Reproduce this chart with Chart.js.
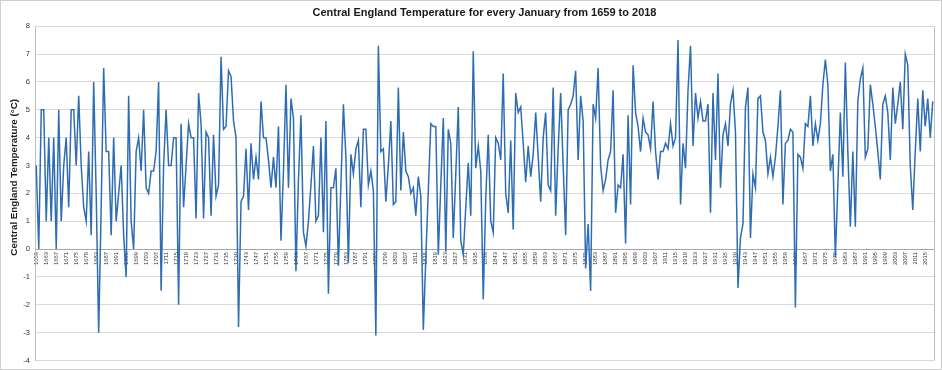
<!DOCTYPE html>
<html><head><meta charset="utf-8">
<script src="https://cdn.jsdelivr.net/npm/chart.js@4.4.0/dist/chart.umd.min.js"></script>
<style>html,body{margin:0;padding:0;background:#fff}canvas{display:block}</style>
</head><body>
<canvas id="c" width="942" height="370"></canvas>
<script>
const chartTitle = 'Central England Temperature for every January from 1659 to 2018';
const yAxisTitle = 'Central England Temperature (°C)';
const firstYear = 1659, lastYear = 2018;
const years = [];
for (let y = firstYear; y <= lastYear; y++) years.push(String(y));

// January mean temperature (°C), 1659-2018
const januaryTemps = [
  3.0, 0.0, 5.0, 5.0, 1.0, 4.0, 1.0, 4.0, 0.0, 5.0,   // 1659-1668
  1.0, 3.0, 4.0, 1.5, 5.0, 5.0, 3.0, 5.5, 3.0, 1.5,   // 1669-1678
  1.0, 3.5, 0.5, 6.0, 2.0, -3.0, 1.5, 6.5, 3.5, 3.5,  // 1679-1688
  0.5, 4.0, 1.0, 2.0, 3.0, 0.5, -1.0, 5.5, 1.0, 0.0,  // 1689-1698
  3.5, 4.0, 2.8, 5.0, 2.2, 2.0, 2.8, 2.8, 3.5, 6.0,   // 1699-1708
  -1.5, 3.0, 5.0, 3.0, 3.0, 4.0, 4.0, -2.0, 4.5, 1.5, // 1709-1718
  3.0, 4.5, 4.0, 4.0, 1.1, 5.6, 4.5, 1.1, 4.2, 4.0,   // 1719-1728
  1.2, 4.1, 1.9, 2.3, 6.9, 4.3, 4.4, 6.4, 6.2, 4.6,   // 1729-1738
  4.0, -2.8, 1.7, 1.9, 3.6, 1.4, 3.8, 2.5, 3.3, 2.5,  // 1739-1748
  5.3, 4.0, 4.0, 3.2, 2.2, 3.3, 2.2, 4.4, 0.3, 2.8,   // 1749-1758
  5.9, 2.2, 5.4, 4.7, -0.8, 2.5, 4.8, 0.6, 0.1, 1.0,  // 1759-1768
  2.3, 3.7, 1.0, 1.2, 4.0, 0.6, 4.6, -1.6, 2.2, 2.2,  // 1769-1778
  2.9, -0.6, 2.3, 5.2, 3.3, -0.5, 3.4, 2.7, 3.6, 3.9, // 1779-1788
  1.5, 4.3, 4.3, 2.3, 2.8, 2.1, -3.1, 7.3, 3.5, 3.6,  // 1789-1798
  1.7, 3.0, 4.6, 1.6, 1.7, 5.8, 2.1, 4.2, 2.8, 2.6,   // 1799-1808
  2.0, 2.2, 1.2, 2.6, 1.9, -2.9, -0.3, 2.1, 4.5, 4.4, // 1809-1818
  4.4, -0.2, 2.3, 4.7, -0.1, 4.3, 3.8, 0.4, 2.7, 5.1, // 1819-1828
  0.3, -0.2, 1.5, 3.1, 1.2, 7.1, 2.9, 3.7, 2.8, -1.8, // 1829-1838
  1.8, 4.1, 1.0, 0.6, 4.0, 3.8, 3.2, 6.3, 2.0, 1.3,   // 1839-1848
  3.9, 0.7, 5.6, 4.9, 5.1, 3.8, 2.4, 3.7, 2.6, 3.4,   // 1849-1858
  4.9, 3.3, 1.7, 4.0, 4.9, 2.3, 2.1, 5.8, 1.2, 3.6,   // 1859-1868
  5.6, 3.0, 0.5, 5.0, 5.2, 5.5, 6.4, 3.2, 5.5, 4.6,   // 1869-1878
  -0.7, 0.9, -1.5, 5.2, 4.7, 6.5, 3.0, 2.1, 2.5, 3.2, // 1879-1888
  3.5, 5.7, 1.3, 2.3, 2.2, 3.4, 0.2, 4.8, 1.6, 6.6,   // 1889-1898
  4.9, 4.4, 3.5, 4.7, 4.2, 4.1, 3.6, 5.3, 3.5, 2.5,   // 1899-1908
  3.5, 3.5, 3.8, 3.6, 4.5, 3.7, 4.0, 7.5, 1.6, 3.8,   // 1909-1918
  2.9, 5.7, 7.3, 3.7, 5.6, 4.7, 5.3, 4.6, 4.6, 5.2,   // 1919-1928
  1.3, 5.6, 3.2, 6.3, 2.2, 4.1, 4.5, 3.7, 5.2, 5.7,   // 1929-1938
  4.2, -1.4, 0.4, 0.9, 5.1, 5.8, 0.4, 2.7, 2.2, 5.4,  // 1939-1948
  5.5, 4.2, 3.9, 2.7, 3.3, 2.6, 3.3, 4.4, 5.7, 1.6,   // 1949-1958
  3.8, 3.9, 4.3, 4.2, -2.1, 3.4, 3.3, 2.9, 4.5, 4.4,  // 1959-1968
  5.5, 3.7, 4.5, 3.9, 4.5, 5.9, 6.8, 5.9, 2.8, 3.4,   // 1969-1978
  -0.3, 2.3, 4.9, 2.6, 6.7, 3.5, 0.8, 3.5, 0.8, 5.3,  // 1979-1988
  6.1, 6.5, 3.3, 3.6, 5.9, 5.2, 4.4, 3.5, 2.5, 5.2,   // 1989-1998
  5.5, 4.9, 3.2, 5.8, 4.5, 5.2, 6.0, 4.3, 7.0, 6.6,   // 1999-2008
  3.0, 1.4, 3.5, 5.4, 3.5, 5.7, 4.4, 5.4, 4.0, 5.3    // 2009-2018
];

// x-axis shows every fourth year
const tickLabelYears = years.filter((y, i) => i % 4 === 0);
const yMin = -4, yMax = 8, yStep = 1;

const FONT = "'Liberation Sans', Arial, sans-serif";

const framePlugin = {
  id: 'frame',
  afterDraw(chart) {
    const { ctx, chartArea: a, width, height } = chart;
    ctx.save();
    // plot area right edge
    ctx.strokeStyle = '#bfbfbf';
    ctx.lineWidth = 1;
    ctx.beginPath();
    ctx.moveTo(Math.round(a.right) + 0.5, a.top);
    ctx.lineTo(Math.round(a.right) + 0.5, a.bottom);
    ctx.stroke();
    // outer chart border
    ctx.strokeStyle = '#d0d0d0';
    ctx.strokeRect(0.5, 0.5, width - 1, height - 1);
    // y-axis title
    ctx.translate(14, a.top + (a.bottom - a.top) * 0.452);
    ctx.rotate(-Math.PI / 2);
    ctx.font = "bold 9.8px " + FONT;
    ctx.fillStyle = '#1a1a1a';
    ctx.textAlign = 'center';
    ctx.textBaseline = 'middle';
    ctx.fillText(yAxisTitle, 0, 0);
    ctx.restore();
  }
};

new Chart(document.getElementById('c'), {
  type: 'line',
  data: {
    labels: years,
    datasets: [{
      data: januaryTemps,
      borderColor: '#2f6db3',
      borderWidth: 1.5,
      pointRadius: 0,
      tension: 0,
      fill: false
    }]
  },
  options: {
    responsive: false,
    animation: false,
    devicePixelRatio: 1,
    layout: { padding: { top: 0, right: 8, bottom: 8, left: 0 } },
    plugins: {
      legend: { display: false },
      tooltip: { enabled: false },
      title: {
        display: true,
        fullSize: false,
        text: chartTitle,
        color: '#1a1a1a',
        font: { family: FONT, size: 11, weight: 'bold' },
        padding: { top: 6, bottom: 7 }
      }
    },
    scales: {
      x: {
        type: 'category',
        offset: true,
        position: { y: 0 },
        grid: { display: false, drawTicks: false },
        border: { display: true, color: '#a6a6a6', width: 1 },
        ticks: {
          autoSkip: false,
          maxRotation: 90,
          minRotation: 90,
          padding: 3,
          color: '#333333',
          font: { family: FONT, size: 5.8 },
          callback: function (v) {
            const l = this.getLabelForValue(v);
            return tickLabelYears.includes(l) ? l : null;
          }
        },
        afterFit: s => { s.height = 0; }
      },
      y: {
        min: yMin,
        max: yMax,
        ticks: {
          stepSize: yStep,
          padding: 5,
          color: '#333333',
          font: { family: FONT, size: 7.5 }
        },
        grid: { color: '#d9d9d9', drawTicks: false },
        border: { color: '#bfbfbf' },
        afterFit: s => { s.width = 35; }
      }
    }
  },
  plugins: [framePlugin]
});
</script>
</body></html>
